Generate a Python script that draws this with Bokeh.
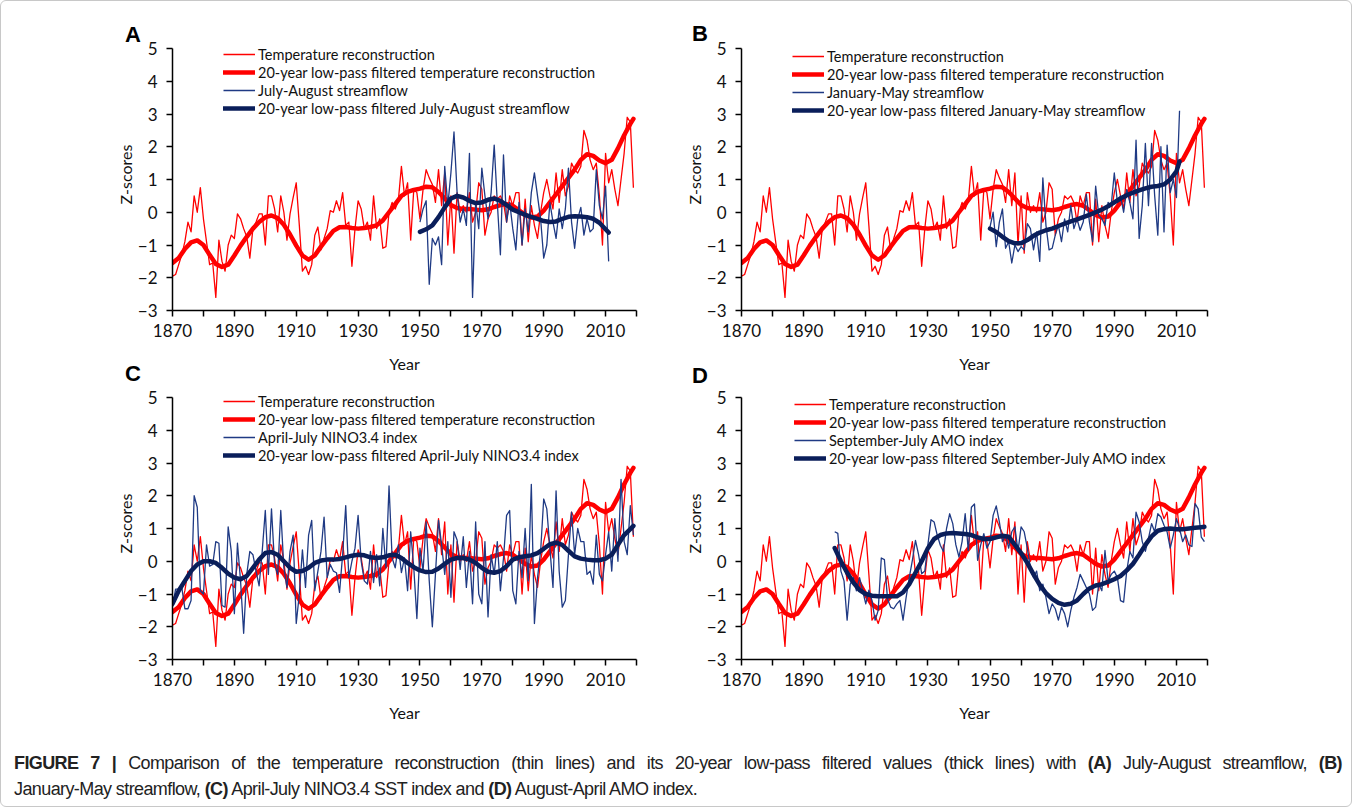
from bokeh.plotting import figure
from bokeh.models import Legend, LegendItem, FixedTicker, Div, Spacer
from bokeh.layouts import row, column
from bokeh.embed import file_html
from bokeh.resources import INLINE

# ---------------- data ----------------
years = list(range(1870, 2020))

temp = [
    -1.95, -1.9, -1.6, -1.3, -0.9, -0.3, -0.6, 0.5, 0.0, 0.75,
    -0.2, -0.9, -1.6, -1.55, -2.6, -0.85, -1.5, -1.8, -1.0, -0.7,
    -0.8, -0.05, -0.2, -0.5, -0.75, -1.4, -0.5, -0.3, -0.05, -0.05,
    -1.0, 0.5, 0.5, 0.1, -0.6, 0.5, 0.0, -0.85, -0.05, 0.45,
    0.9, -0.4, -1.8, -1.65, -1.9, -1.6, -0.7, -0.45, -1.15, -0.8,
    -0.5, 0.05, 0.0, 0.35, 0.05, 0.6, -0.4, -0.3, -1.65, -0.5,
    0.35, 0.1, -0.5, -0.3, -0.85, 0.5, -0.5, -0.2, -1.1, -1.05,
    0.0, 0.3, 0.1, 0.35, 1.4, 0.5, 0.9, -0.85, 0.7, 0.6,
    -0.2, 0.7, 1.3, 1.05, 0.85, 0.3, 1.3, 0.2, 1.2, -1.0,
    0.5, -1.25, 0.6, 0.0, 0.2, 0.0, 0.6, -0.3, 0.0, 0.9,
    0.7, -0.7, -0.2, 0.0, 0.5, 0.4, 0.5, 0.3, -0.3, 0.5,
    0.2, 0.6, 0.6, -1.0, 0.4, -0.9, 0.2, -0.4, -0.8, 0.0,
    0.6, 1.0, 0.5, 0.1, 1.2, 0.3, 1.3, 0.5, 0.8, 1.5,
    1.3, 1.2, 1.4, 2.5, 2.2, 1.6, 1.3, 1.5, 0.5, -1.0,
    1.8, 0.9, 1.3, 0.7, 0.2, 1.0, 1.8, 2.9, 2.75, 0.75,
]

lp_years = list(range(1870, 2019, 2)) + [2019]
temp_lp = [
    -1.55, -1.4, -1.12, -0.92, -0.86,
    -1.0, -1.3, -1.58, -1.67, -1.6,
    -1.32, -1.02, -0.75, -0.5, -0.3,
    -0.15, -0.1, -0.18, -0.38, -0.68,
    -1.02, -1.32, -1.45, -1.32, -1.05,
    -0.8, -0.57, -0.46, -0.45, -0.48,
    -0.5, -0.48, -0.45, -0.4, -0.25,
    0.0, 0.25, 0.5, 0.62, 0.68,
    0.72, 0.78, 0.76, 0.62, 0.42,
    0.22, 0.13, 0.1, 0.1, 0.08,
    0.06, 0.09, 0.16, 0.22, 0.25,
    0.2, 0.06, -0.08, -0.16, -0.13,
    0.05, 0.3, 0.55, 0.8, 1.05,
    1.3, 1.6, 1.77, 1.72, 1.58,
    1.5, 1.6, 1.95, 2.35, 2.7, 2.85,
]

# (A) July-August streamflow
jul_aug_years = list(range(1950, 2012))
jul_aug = [
    -0.3, 0.1, 0.35, -2.2, -0.8, -1.0, -0.75, -1.6, 1.4, 0.2,
    1.2, 2.45, 0.6, -0.3, 0.1, -0.4, 1.8, -2.6, 0.3, -0.5,
    1.35, 0.5, -0.2, 0.6, 2.05, 0.3, -1.3, 1.75, -0.3, 0.3,
    -0.5, -1.15, 0.3, -1.0, 0.1, -0.6, 0.6, 1.2, 0.5, -0.2,
    -1.4, -1.0, 0.3, -0.3, -0.8, 0.1, -0.5, 0.1, 1.35, -0.3,
    -1.1, -0.2, 0.15, -0.7, -0.2, -0.6, -0.5, 1.3, 0.2, -0.2,
    0.8, -1.5,
]
jul_aug_lp_years = list(range(1950, 2011, 2)) + [2011]
jul_aug_lp = [
    -0.6, -0.52, -0.4, -0.15, 0.15, 0.42, 0.5, 0.45, 0.35, 0.28,
    0.3, 0.38, 0.42, 0.35, 0.22, 0.08, 0.0, -0.08, -0.14, -0.2,
    -0.27, -0.3, -0.28, -0.2, -0.14, -0.12, -0.13, -0.15, -0.2, -0.32,
    -0.52, -0.62,
]

# (B) January-May streamflow
jan_may_years = list(range(1950, 2012))
jan_may = [
    -0.45, 0.0, -1.05, -0.3, 0.1, -1.1, -0.9, -1.55, -1.0, -1.2,
    -1.05, -1.15, -0.35, -0.5, -1.15, -0.6, -1.5, 1.05, -0.4, -1.15,
    -1.1, -0.7, -0.4, -0.9, -0.2, -0.6, 0.2, -0.5, -0.2, -0.55,
    -0.3, 0.55, -0.3, -0.9, 0.8, -0.1, -0.2, -0.4, 0.3, 0.2,
    1.2, 0.3, 0.5, 0.0, 0.7, 0.3, -0.2, 2.2, -0.8, 0.2,
    2.1, 0.2, 2.1, 0.5, -0.7, 2.0, -0.6, 2.05, 0.6, 1.0,
    0.45, 3.1,
]
jan_may_lp_years = list(range(1950, 2011, 2)) + [2011]
jan_may_lp = [
    -0.5, -0.6, -0.75, -0.88, -0.95, -0.95, -0.85, -0.72, -0.62, -0.55,
    -0.5, -0.42, -0.35, -0.28, -0.22, -0.15, -0.08, 0.0, 0.08, 0.18,
    0.3, 0.42, 0.52, 0.6, 0.67, 0.73, 0.78, 0.8, 0.85, 1.0,
    1.25, 1.55,
]

# (C) April-July NINO3.4 index
nino_years = list(range(1870, 2020))
nino = [
    -1.4, -0.85, -0.85, -0.8, -1.45, -1.45, -1.2, 2.0, 1.65, -0.9,
    -1.0, 0.5, -0.15, -0.1, 0.6, 0.55, -1.35, -1.4, 1.05, 0.3,
    -1.6, 0.55, -0.6, -2.2, -0.4, 0.3, 0.2, -0.3, -0.75, 0.3,
    1.55, -0.4, 1.6, -0.1, -0.4, 1.55, -0.2, -0.8, 0.3, 0.8,
    -1.9, -1.0, 0.35, -0.8, 0.8, 1.25, -0.9, -0.3, 0.3, 1.35,
    -0.5, -0.1, -0.3, -0.35, -0.95, 0.2, 1.7, -0.5, 0.0, 0.4,
    1.4, 0.0, -0.6, -0.7, 0.3, -0.65, 0.2, -0.75, 1.0, -0.2,
    2.3, 0.1, -0.2, 0.5, -0.35, 0.1, -0.9, 0.9, -0.2, -1.75,
    0.4, -0.3, 1.2, -0.6, -2.0, -0.4, 1.25, 0.5, -0.4, 0.6,
    -1.1, 0.9, 0.65, -0.25, 0.75, -0.8, 0.3, -1.3, 1.2, -1.0,
    -1.3, 0.6, -1.7, 0.2, -0.4, 0.6, -0.9, 0.1, 1.4, 1.55,
    -0.9, -1.3, 0.3, -0.5, 1.0, -0.6, 2.35, -1.9, -0.5, 0.3,
    1.9, 1.6, 0.4, -0.8, 2.15, -0.3, -1.4, -1.2, 0.2, 1.5,
    0.2, 1.0, 0.6, 0.6, -0.4, -0.3, -0.7, 0.8, -0.4, -0.6,
    0.2, 0.9, -0.3, 1.3, 0.0, 2.5, 0.6, 0.2, 1.7, 0.8,
]
nino_lp_years = list(range(1870, 2019, 2)) + [2019]
nino_lp = [
    -1.3, -0.9, -0.6, -0.3, -0.1,
    0.0, 0.0, -0.05, -0.2, -0.38,
    -0.5, -0.55, -0.45, -0.2, 0.05,
    0.25, 0.28, 0.2, 0.0, -0.2,
    -0.32, -0.3, -0.2, -0.05, 0.02,
    0.05, 0.05, 0.07, 0.12, 0.17,
    0.2, 0.18, 0.12, 0.1, 0.12,
    0.18, 0.2, 0.1, -0.05, -0.18,
    -0.28, -0.33, -0.32, -0.22, -0.08,
    0.05, 0.1, 0.1, 0.05, -0.05,
    -0.2, -0.32, -0.35, -0.3, -0.15,
    0.05, 0.12, 0.15, 0.18, 0.25,
    0.38, 0.52, 0.57, 0.5, 0.32,
    0.15, 0.08, 0.05, 0.03, 0.03,
    0.08, 0.2, 0.5, 0.8, 0.98, 1.08,
]

# (D) September-July AMO index
amo_years = list(range(1900, 2020))
amo = [
    0.9, 0.85, -0.3, -0.6, -1.8, -0.7, -0.5, -0.9, -0.5, -0.9,
    -1.3, -0.88, -1.2, -1.8, -1.5, 0.1, 0.05, -1.15, -1.4, -1.45,
    -1.3, -1.2, -1.8, -1.1, -0.5, 0.03, 0.64, 0.2, -0.38, -0.3,
    0.5, 1.27, 1.2, 0.8, 0.49, 0.3, 1.0, 1.45, 1.15, 0.5,
    0.13, 0.6, 1.45, 0.33, 1.65, 1.75, 0.03, 0.5, 0.84, 0.4,
    0.6, 1.4, 1.69, 1.2, 0.6, 0.8, 0.4, 0.9, 1.05, 0.3,
    1.05, 0.9, 0.4, -0.2, -0.5, -0.3, -0.9, -0.7, -1.1, -1.6,
    -1.3, -1.45, -1.8, -1.4, -1.6, -2.0, -1.5, -1.1, -0.8, -0.4,
    -0.6, -0.8, -1.0, -1.5, -1.4, -0.7, -0.9, 0.33, -0.6, -0.4,
    -0.3, -0.5, -1.2, -1.25, -0.3, 0.3, 0.1, 1.5, 1.2, 0.6,
    0.3, 0.7, 1.15, 0.9, 1.45, 1.35, 1.1, 0.9, 0.4, 0.8,
    1.3, 1.0, 0.6, 0.8, 0.5, 0.45, 1.76, 1.6, 0.74, 0.6,
]
amo_lp_years = list(range(1900, 2019, 2)) + [2019]
amo_lp = [
    0.4, 0.0, -0.35, -0.65, -0.88,
    -1.0, -1.05, -1.07, -1.07, -1.07,
    -1.07, -0.95, -0.7, -0.35, 0.0,
    0.4, 0.68, 0.8, 0.85, 0.86,
    0.85, 0.83, 0.8, 0.73, 0.68,
    0.68, 0.73, 0.78, 0.75, 0.5,
    0.25, -0.05, -0.4, -0.72, -0.97,
    -1.15, -1.27, -1.33, -1.3, -1.2,
    -1.0, -0.83, -0.74, -0.7, -0.63,
    -0.55, -0.45, -0.28, -0.08, 0.2,
    0.5, 0.76, 0.93, 0.98, 1.0,
    0.98, 0.98, 1.0, 1.02, 1.04, 1.05,
]

x_ticks = list(range(1870, 2021, 10))
x_blank = list(range(1880, 2021, 20))
y_ticks = list(range(-3, 6))

RED = "#FF0000"
BLUE_THIN = "#1F3A84"
BLUE_THICK = "#0A1E5A"
TXT = "#111111"
FONT = "Lato"

# the frame is 10 px taller than the -3..5 axis so the legend is never clipped
FRAME_H = 272
Y_TOP = 5 + 10 / 32.75


def panel(fw, left, right, top, bottom, series_label, s_x, s_y, lp_x, lp_y,
          leg_xy):
    p = figure(frame_width=fw, frame_height=FRAME_H,
               min_border_left=left, min_border_right=right,
               min_border_top=top, min_border_bottom=bottom,
               x_range=(1870, 2020), y_range=(-3, Y_TOP),
               output_backend="svg", toolbar_location=None, tools="")
    p.outline_line_color = None
    p.xgrid.grid_line_color = None
    p.ygrid.grid_line_color = None
    p.background_fill_color = "white"
    p.border_fill_color = "white"

    p.xaxis.ticker = FixedTicker(ticks=x_ticks)
    p.xaxis.major_label_overrides = {t: "" for t in x_blank}
    p.yaxis.ticker = FixedTicker(ticks=y_ticks)
    p.yaxis.bounds = (-3, 5)
    p.xaxis.axis_label = "Year"
    p.yaxis.axis_label = "Z-scores"
    for ax in (p.xaxis[0], p.yaxis[0]):
        ax.minor_tick_line_color = None
        ax.major_tick_in = 0
        ax.major_tick_out = 6
        ax.axis_line_width = 1.5
        ax.major_tick_line_width = 1.5
        ax.axis_line_color = "#000000"
        ax.major_tick_line_color = "#000000"
        ax.major_label_text_font = FONT
        ax.major_label_text_font_size = "17px"
        ax.major_label_text_color = TXT
        ax.axis_label_text_font = FONT
        ax.axis_label_text_font_size = "16px"
        ax.axis_label_text_font_style = "normal"
        ax.axis_label_text_color = TXT
    p.xaxis.major_label_standoff = 7
    p.xaxis.axis_label_standoff = 14
    p.yaxis.major_label_standoff = 9
    p.yaxis.axis_label_standoff = 0

    r1 = p.line(years, temp, line_color=RED, line_width=1.3, line_join="round")
    r2 = p.line(lp_years, temp_lp, line_color=RED, line_width=4.5,
                line_join="round", line_cap="round")
    r3 = p.line(s_x, s_y, line_color=BLUE_THIN, line_width=1.3, line_join="round")
    r4 = p.line(lp_x, lp_y, line_color=BLUE_THICK, line_width=4.5,
                line_join="round", line_cap="round")

    items = [
        LegendItem(label="Temperature reconstruction", renderers=[r1]),
        LegendItem(label="20-year low-pass filtered temperature reconstruction", renderers=[r2]),
        LegendItem(label=series_label, renderers=[r3]),
        LegendItem(label="20-year low-pass filtered " + series_label, renderers=[r4]),
    ]
    leg = Legend(items=items, location=leg_xy, glyph_width=32, glyph_height=18,
                 label_height=18, label_standoff=3, spacing=0, padding=0, margin=0,
                 border_line_color=None, background_fill_alpha=0,
                 label_text_font=FONT, label_text_font_size="14.5px",
                 label_text_color=TXT)
    p.add_layout(leg)
    return p


pA = panel(464, 163, 45, 31, 75, "July-August streamflow",
           jul_aug_years, jul_aug, jul_aug_lp_years, jul_aug_lp, (51, 193))
pB = panel(466, 58, 144, 31, 75, "January-May streamflow",
           jan_may_years, jan_may, jan_may_lp_years, jan_may_lp, (51, 191))
pC = panel(464, 163, 45, 1, 66, "April-July NINO3.4 index",
           nino_years, nino, nino_lp_years, nino_lp, (51, 195))
pD = panel(466, 59, 143, 2, 65, "September-July AMO index",
           amo_years, amo, amo_lp_years, amo_lp, (53, 192))

# panel letters, laid over the page between/above the rows of panels
letter_style = ("position:absolute;font-family:'Liberation Sans',Arial,sans-serif;"
                "font-weight:bold;font-size:22px;line-height:22px;color:#000;")
letters_html = (
    '<div style="position:relative;height:0;overflow:visible;">'
    '<span style="' + letter_style + 'left:124px;top:-373px;">A</span>'
    '<span style="' + letter_style + 'left:691px;top:-374px;">B</span>'
    '<span style="' + letter_style + 'left:124px;top:-34px;">C</span>'
    '<span style="' + letter_style + 'left:691px;top:-32px;">D</span>'
    '</div>'
)
letters = Div(text=letters_html, width=1348, height=0, margin=0,
              styles={"overflow": "visible", "z-index": "5"})

caption_html = (
    '<div style="font-family:\'Liberation Sans\',Arial,sans-serif;font-size:18px;'
    'letter-spacing:-0.6px;line-height:26px;padding-top:26px;padding-left:13px;'
    'white-space:nowrap;color:#222;">'
    '<div style="width:1328px;text-align:justify;text-align-last:justify;">'
    '<b>FIGURE 7 |</b> Comparison of the temperature reconstruction (thin lines) and its '
    '20-year low-pass filtered values (thick lines) with <b>(A)</b> July-August streamflow, '
    '<b>(B)</b></div>'
    '<div>January-May streamflow, <b>(C)</b> April-July NINO3.4 SST index and '
    '<b>(D)</b> August-April AMO index.</div></div>'
)
caption = Div(text=caption_html, width=1348, height=82, margin=0)

layout = column(
    Spacer(height=6),
    row(Spacer(width=8), pA, pB),
    letters,
    row(Spacer(width=8), pC, pD),
    caption,
    styles={"border": "1px solid #c8c8c8", "border-radius": "6px",
            "background": "white"},
)

open("out.html", "w").write(file_html(layout, INLINE))
